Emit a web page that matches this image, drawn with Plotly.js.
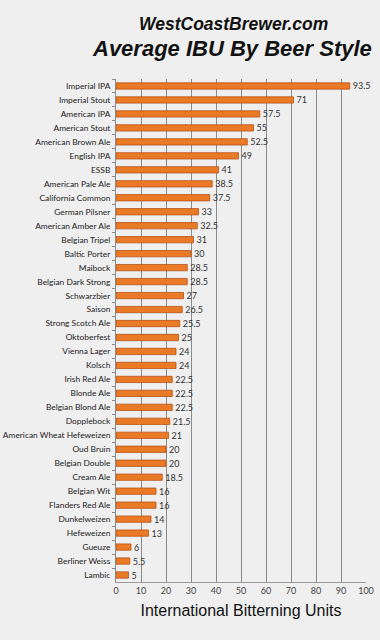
<!DOCTYPE html>
<html>
<head>
<meta charset="utf-8">
<script src="https://cdn.plot.ly/plotly-3.0.1.min.js"></script>
<style>
html,body{margin:0;padding:0;background:#efefef;}
#chart{width:380px;height:640px;}
</style>
</head>
<body>
<div id="chart"></div>
<script>
const styles = [
  "Imperial IPA","Imperial Stout","American IPA","American Stout","American Brown Ale",
  "English IPA","ESSB","American Pale Ale","California Common","German Pilsner",
  "American Amber Ale","Belgian Tripel","Baltic Porter","Maibock","Belgian Dark Strong",
  "Schwarzbier","Saison","Strong Scotch Ale","Oktoberfest","Vienna Lager","Kolsch",
  "Irish Red Ale","Blonde Ale","Belgian Blond Ale","Dopplebock","American Wheat Hefeweizen",
  "Oud Bruin","Belgian Double","Cream Ale","Belgian Wit","Flanders Red Ale","Dunkelweizen",
  "Hefeweizen","Gueuze","Berliner Weiss","Lambic"
];
const ibu = [
  93.5,71,57.5,55,52.5,
  49,41,38.5,37.5,33,
  32.5,31,30,28.5,28.5,
  27,26.5,25.5,25,24,24,
  22.5,22.5,22.5,21.5,21,
  20,20,18.5,16,16,14,
  13,6,5.5,5
];
const xTicks = [0,10,20,30,40,50,60,70,80,90,100];
const titleLine1 = "WestCoastBrewer.com";
const titleLine2 = "Average IBU By Beer Style";
const xTitle = "International Bitterning Units";

const trace = {
  type: "bar",
  orientation: "h",
  y: styles,
  x: ibu,
  text: ibu.map(String),
  textposition: "outside",
  constraintext: "none",
  cliponaxis: false,
  textfont: {family: "Lato, 'Open Sans', sans-serif", size: 9, color: "#333"},
  marker: {color: "#ea7a26", line: {color: "#b5531a", width: 0.8}},
  hoverinfo: "none"
};

const layout = {
  width: 380, height: 640,
  paper_bgcolor: "#efefef",
  plot_bgcolor: "#efefef",
  margin: {l: 116, r: 14, t: 79, b: 58},
  bargap: 0.55,
  showlegend: false,
  xaxis: {
    range: [0, 100],
    tickvals: xTicks,
    ticktext: xTicks.map(String),
    showgrid: true,
    gridcolor: "#8a8a8a",
    gridwidth: 1,
    zeroline: false,
    showline: true,
    linecolor: "#9a9a9a",
    ticks: "",
    tickfont: {family: "Lato, 'Open Sans', sans-serif", size: 9, color: "#444"},
    title: {text: xTitle, font: {family: "'Liberation Sans', Arial, sans-serif", size: 16, color: "#111"}, standoff: 10},
    fixedrange: true
  },
  yaxis: {
    type: "category",
    autorange: "reversed",
    showgrid: false,
    showline: true,
    linecolor: "#8a8a8a",
    ticks: "outside",
    ticklen: 3,
    tickcolor: "#8a8a8a",
    tickson: "boundaries",
    ticklabelstandoff: 3,
    tickfont: {family: "Lato, 'Open Sans', sans-serif", size: 8.4, color: "#222"},
    fixedrange: true
  },
  annotations: [
    {text: "<b><i>" + titleLine1 + "</i></b>", xref: "paper", yref: "paper",
     x: 0.47, y: 0, yanchor: "middle", xanchor: "center", showarrow: false,
     font: {family: "'Liberation Sans', Arial, sans-serif", size: 17.5, color: "#111"}},
    {text: "<b><i>" + titleLine2 + "</i></b>", xref: "paper", yref: "paper",
     x: 0.47, y: 0, yanchor: "middle", xanchor: "center", showarrow: false,
     font: {family: "'Liberation Sans', Arial, sans-serif", size: 22, color: "#111"}}
  ]
};

const plotH = 640 - 79 - 58;
const plotW = 380 - 116 - 14;
function py(pix){ return 1 - (pix - 79) / plotH; }
function px(pix){ return (pix - 116) / plotW; }
layout.annotations[0].y = py(24); layout.annotations[0].x = px(233);
layout.annotations[1].y = py(48); layout.annotations[1].x = px(232);

Plotly.newPlot("chart", [trace], layout, {displayModeBar: false, staticPlot: true});
</script>
</body>
</html>
